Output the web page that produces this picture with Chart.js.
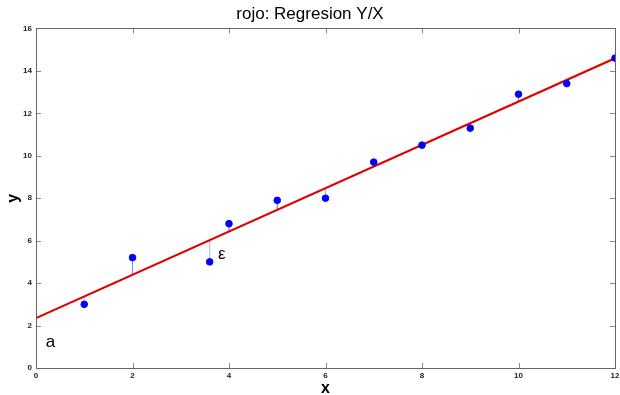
<!DOCTYPE html>
<html>
<head>
<meta charset="utf-8">
<script src="https://cdn.jsdelivr.net/npm/chart.js@4/dist/chart.umd.min.js"></script>
<style>
  html, body { margin: 0; padding: 0; background: #fff; }
  #wrap { width: 620px; height: 395px; }
</style>
</head>
<body>
<div id="wrap"><canvas id="regChart"></canvas></div>
<script>
// Observed data points
const xValues = [1, 2, 3.6, 4, 5, 6, 7, 8, 9, 10, 11, 12];
const yValues = [3.0, 5.2, 5.0, 6.8, 7.9, 8.0, 9.7, 10.5, 11.3, 12.9, 13.4, 14.6];

// Regression line y = a + b x
const lineX = [0, 12];
const intercept = 2.35;
const slope = 1.02;

// Tick labels
const xTicks = [0, 2, 4, 6, 8, 10, 12];
const yTicks = [0, 2, 4, 6, 8, 10, 12, 14, 16];

// Text annotations in data units
const notes = [
    { text: 'a', x: 0.3, y: 1.2 },
    { text: 'ε', x: 3.85, y: 5.35 }
];

const fitY = x => intercept + slope * x;

// Build the residual segments, with a gap point between them so they are not joined
const residuals = [];
xValues.forEach((x, i) => {
    residuals.push({ x: x, y: yValues[i] });
    residuals.push({ x: x, y: fitY(x) });
    residuals.push({ x: x, y: null });
});

// Ticks drawn inward on all four sides, like the original plot box
const innerTicks = {
    id: 'innerTicks',
    afterDatasetsDraw(chart) {
        const ctx = chart.ctx;
        const area = chart.chartArea;
        const xs = chart.scales.x;
        const ys = chart.scales.y;
        ctx.save();
        ctx.strokeStyle = '#888';
        ctx.lineWidth = 1;
        ctx.beginPath();
        xTicks.forEach(v => {
            const px = Math.round(xs.getPixelForValue(v)) + 0.5;
            ctx.moveTo(px, area.bottom); ctx.lineTo(px, area.bottom - 5);
            ctx.moveTo(px, area.top); ctx.lineTo(px, area.top + 5);
        });
        yTicks.forEach(v => {
            const py = Math.round(ys.getPixelForValue(v)) + 0.5;
            ctx.moveTo(area.left, py); ctx.lineTo(area.left + 5, py);
            ctx.moveTo(area.right, py); ctx.lineTo(area.right - 5, py);
        });
        ctx.stroke();
        ctx.strokeStyle = '#666';
        ctx.strokeRect(Math.round(area.left) + 0.5, Math.round(area.top) + 0.5,
            Math.round(area.right - area.left), Math.round(area.bottom - area.top));

        // annotation text
        ctx.fillStyle = '#000';
        ctx.font = '17px "Liberation Sans", Arial, sans-serif';
        ctx.textAlign = 'center';
        ctx.textBaseline = 'middle';
        notes.forEach(n => {
            ctx.fillText(n.text, xs.getPixelForValue(n.x), ys.getPixelForValue(n.y));
        });
        ctx.restore();
    }
};

const ctx = document.getElementById('regChart').getContext('2d');
new Chart(ctx, {
    type: 'scatter',
    data: {
        datasets: [
            {
                type: 'line',
                label: 'residuals',
                data: residuals,
                borderColor: 'rgba(120, 120, 255, 0.6)',
                borderWidth: 1,
                pointRadius: 0,
                spanGaps: false,
                order: 3
            },
            {
                type: 'line',
                label: 'regresion',
                data: lineX.map(x => ({ x: x, y: fitY(x) })),
                borderColor: '#e00000',
                borderWidth: 2.2,
                pointRadius: 0,
                order: 2
            },
            {
                label: 'datos',
                data: xValues.map((x, i) => ({ x: x, y: yValues[i] })),
                backgroundColor: '#0000ff',
                borderColor: '#0000ff',
                pointRadius: 3.3,
                order: 1
            }
        ]
    },
    options: {
        responsive: true,
        maintainAspectRatio: false,
        animation: false,
        layout: { padding: { left: 0, right: 0, top: 0, bottom: 0 } },
        plugins: {
            legend: { display: false },
            tooltip: { enabled: false },
            title: {
                display: true,
                text: 'rojo: Regresion Y/X',
                color: '#000',
                font: { family: '"Liberation Sans", Arial, sans-serif', size: 17, weight: 'normal' },
                padding: { top: 4, bottom: 4 }
            }
        },
        scales: {
            x: {
                type: 'linear',
                min: 0,
                max: 12,
                afterBuildTicks: s => { s.ticks = xTicks.map(v => ({ value: v })); },
                afterFit: s => { s.height = 27; s.paddingRight = 4; },
                grid: { display: false, drawTicks: false },
                border: { display: false },
                ticks: {
                    color: '#222',
                    padding: 3,
                    maxRotation: 0,
                    font: { family: '"Liberation Sans", Arial, sans-serif', size: 8, weight: 'bold' }
                },
                title: {
                    display: true,
                    text: 'x',
                    color: '#000',
                    padding: { top: 0, bottom: -3 },
                    font: { family: '"Liberation Sans", Arial, sans-serif', size: 16, weight: 'bold' }
                }
            },
            y: {
                type: 'linear',
                min: 0,
                max: 16,
                afterBuildTicks: s => { s.ticks = yTicks.map(v => ({ value: v })); },
                afterFit: s => { s.width = 36; },
                grid: { display: false, drawTicks: false },
                border: { display: false },
                ticks: {
                    color: '#222',
                    padding: 4,
                    font: { family: '"Liberation Sans", Arial, sans-serif', size: 8, weight: 'bold' }
                },
                title: {
                    display: true,
                    text: 'y',
                    color: '#000',
                    padding: { top: 4, bottom: 0 },
                    font: { family: '"Liberation Sans", Arial, sans-serif', size: 16, weight: 'bold' }
                }
            }
        }
    },
    plugins: [innerTicks]
});
</script>
</body>
</html>
